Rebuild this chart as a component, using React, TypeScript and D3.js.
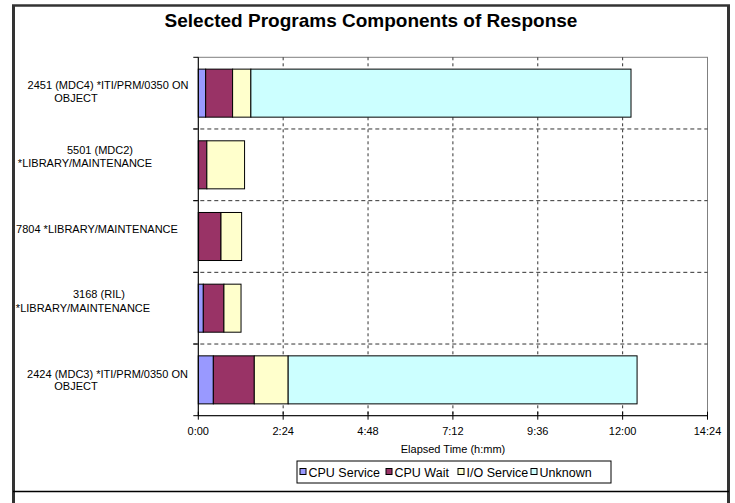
import React from "react";
import * as d3 from "d3";

// ---- data (minutes) ----
const categories = [
  "2451 (MDC4) *ITI/PRM/0350 ON OBJECT",
  "5501 (MDC2) *LIBRARY/MAINTENANCE",
  "7804 *LIBRARY/MAINTENANCE",
  "3168 (RIL) *LIBRARY/MAINTENANCE",
  "2424 (MDC3) *ITI/PRM/0350 ON OBJECT",
];
const categoryLines = [
  ["2451 (MDC4) *ITI/PRM/0350 ON", "OBJECT"],
  ["5501 (MDC2)", "*LIBRARY/MAINTENANCE"],
  ["7804 *LIBRARY/MAINTENANCE"],
  ["3168 (RIL)", "*LIBRARY/MAINTENANCE"],
  ["2424 (MDC3) *ITI/PRM/0350 ON", "OBJECT"],
];
const seriesNames = ["CPU Service", "CPU Wait", "I/O Service", "Unknown"];
const cpuService = [12.5, 0.5, 0.5, 8.5, 25.5];
const cpuWait = [45.7, 14, 38, 35, 69.5];
const ioService = [31, 64, 35, 29, 57.5];
const unknown = [645, 0, 0, 0, 592];
const tickMinutes = [0, 144, 288, 432, 576, 720, 864];
const tickLabels = ["0:00", "2:24", "4:48", "7:12", "9:36", "12:00", "14:24"];

// ---- styling / layout ----
const colors = ["#9999FF", "#993366", "#FFFFCC", "#CCFFFF"];
const FONT = "'Liberation Sans', Arial, sans-serif";
const W = 735;
const H = 503;
const plot = { left: 198.3, right: 707.5, top: 57.3, bottom: 415.7 };
// label line placement: [centerX, dy from band center]
const labelPlacement = [
  [[108, -8], [76, 5]],
  [[100, -15], [85, -2]],
  [[97, -7.5]],
  [[99, -14], [83, 0]],
  [[107.5, -6], [76, 6]],
];
const legendX = [300, 386, 458, 531];

export default function App() {
  const x = d3.scaleLinear().domain([0, 864]).range([plot.left, plot.right]);
  const y = d3
    .scaleBand<string>()
    .domain(categories)
    .range([plot.top, plot.bottom])
    .paddingInner(0.33)
    .paddingOuter(0.165);

  const rows = categories.map((c, i) => ({
    cat: c,
    s0: cpuService[i],
    s1: cpuWait[i],
    s2: ioService[i],
    s3: unknown[i],
  }));
  const stack = d3.stack<any>().keys(["s0", "s1", "s2", "s3"])(rows);
  const step = y.step();
  const bandBoundaries = categories.slice(1).map((c) => (y(c) as number) - (step * 0.33) / 2);

  return (
    <svg
      width={W}
      height={H}
      style={{ position: "absolute", left: 0, top: 0, background: "#fff" }}
      fontFamily={FONT}
    >
      <rect x={0} y={0} width={W} height={H} fill="#fff" />
      {/* outer frame */}
      <line x1={13.5} y1={5} x2={13.5} y2={H} stroke="#333" strokeWidth={3} />
      <line x1={728.5} y1={5} x2={728.5} y2={H} stroke="#333" strokeWidth={3} />
      <line x1={12} y1={5.5} x2={730} y2={5.5} stroke="#333" strokeWidth={2.5} />
      <line x1={13} y1={491.5} x2={729} y2={491.5} stroke="#000" strokeWidth={1.5} />

      {/* title */}
      <text x={371} y={26.5} textAnchor="middle" fontSize={19} fontWeight="bold" fill="#000">
        Selected Programs Components of Response
      </text>

      {/* plot area border */}
      <rect
        x={plot.left}
        y={plot.top}
        width={plot.right - plot.left}
        height={plot.bottom - plot.top}
        fill="#fff"
        stroke="#808080"
        strokeWidth={1}
      />

      {/* vertical dashed gridlines */}
      {tickMinutes.slice(1, -1).map((t) => (
        <line
          key={"vg" + t}
          x1={x(t)}
          x2={x(t)}
          y1={plot.top}
          y2={plot.bottom}
          stroke="#333"
          strokeWidth={1}
          strokeDasharray="3,3"
        />
      ))}
      {/* horizontal dashed lines at category boundaries */}
      {bandBoundaries.map((b, i) => (
        <line
          key={"hg" + i}
          x1={plot.left - 5}
          x2={plot.right}
          y1={b}
          y2={b}
          stroke="#333"
          strokeWidth={1}
          strokeDasharray="4,3"
        />
      ))}

      {/* bars */}
      {stack.map((layer, si) =>
        layer.map((d, i) => {
          const w = x(d[1]) - x(d[0]);
          if (w <= 0) return null;
          return (
            <rect
              key={si + "-" + i}
              x={x(d[0])}
              y={y(categories[i])}
              width={w}
              height={y.bandwidth()}
              fill={colors[si]}
              stroke="#000"
              strokeWidth={1}
            />
          );
        })
      )}

      {/* axes lines */}
      <line x1={plot.left} x2={plot.left} y1={plot.top} y2={plot.bottom} stroke="#000" strokeWidth={1} />
      <line x1={plot.left - 5} x2={plot.left} y1={plot.top} y2={plot.top} stroke="#000" strokeWidth={1} />
      {bandBoundaries.map((b, i) => (
        <line key={"yt" + i} x1={plot.left - 5} x2={plot.left} y1={b} y2={b} stroke="#000" strokeWidth={1} />
      ))}
      <line x1={plot.left - 5} x2={plot.right} y1={plot.bottom} y2={plot.bottom} stroke="#000" strokeWidth={1} />
      {tickMinutes.map((t) => (
        <line key={"xt" + t} x1={x(t)} x2={x(t)} y1={plot.bottom - 4} y2={plot.bottom + 4} stroke="#000" strokeWidth={1} />
      ))}

      {/* tick labels */}
      {tickMinutes.map((t, i) => (
        <text key={"tl" + t} x={x(t)} y={435} textAnchor="middle" fontSize={11} fill="#000">
          {tickLabels[i]}
        </text>
      ))}
      <text x={453} y={453} textAnchor="middle" fontSize={11} fill="#000">
        Elapsed Time (h:mm)
      </text>

      {/* category labels */}
      {categoryLines.map((lines, i) => {
        const cy = (y(categories[i]) as number) + y.bandwidth() / 2;
        return lines.map((ln, j) => (
          <text
            key={"cl" + i + "-" + j}
            x={labelPlacement[i][j][0]}
            y={cy + labelPlacement[i][j][1] + 4}
            textAnchor="middle"
            fontSize={11}
            fill="#000"
          >
            {ln}
          </text>
        ));
      })}

      {/* legend */}
      <rect x={297} y={461} width={314} height={22} fill="#fff" stroke="#000" strokeWidth={1} />
      {seriesNames.map((n, i) => (
        <g key={"lg" + i}>
          <rect x={legendX[i]} y={468.5} width={6} height={6} fill={colors[i]} stroke="#000" strokeWidth={1} />
          <text x={legendX[i] + 8.5} y={476.5} fontSize={12.5} fill="#000">
            {n}
          </text>
        </g>
      ))}
    </svg>
  );
}
